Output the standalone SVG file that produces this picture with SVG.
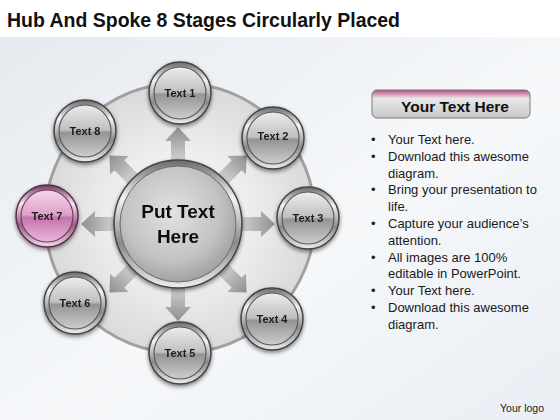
<svg xmlns="http://www.w3.org/2000/svg" width="560" height="420" viewBox="0 0 560 420">
<defs>
<linearGradient id="bg" x1="0" y1="0" x2="1" y2="1">
<stop offset="0" stop-color="#e6eaef"/>
<stop offset="0.55" stop-color="#f6f8fa"/>
<stop offset="1" stop-color="#e9eef4"/>
</linearGradient>
<radialGradient id="disc" cx="0.5" cy="0.5" r="0.5">
<stop offset="0.4" stop-color="#f2f2f2"/>
<stop offset="1" stop-color="#dadada"/>
</radialGradient>
<linearGradient id="chrome" x1="0" y1="0" x2="0" y2="1">
<stop offset="0" stop-color="#6a6a6a"/>
<stop offset="0.3" stop-color="#f4f4f4"/>
<stop offset="0.65" stop-color="#8a8a8a"/>
<stop offset="1" stop-color="#eeeeee"/>
</linearGradient>
<linearGradient id="sphere" x1="0" y1="0" x2="0" y2="1">
<stop offset="0" stop-color="#ececec"/>
<stop offset="0.48" stop-color="#c0c0c0"/>
<stop offset="0.53" stop-color="#949494"/>
<stop offset="1" stop-color="#cdcdcd"/>
</linearGradient>
<linearGradient id="pchrome" x1="0" y1="0" x2="0" y2="1">
<stop offset="0" stop-color="#6e3e5c"/>
<stop offset="0.3" stop-color="#f6e6f0"/>
<stop offset="0.65" stop-color="#98607f"/>
<stop offset="1" stop-color="#f2dcea"/>
</linearGradient>
<linearGradient id="psphere" x1="0" y1="0" x2="0" y2="1">
<stop offset="0" stop-color="#f6d6ec"/>
<stop offset="0.48" stop-color="#dca0c8"/>
<stop offset="0.53" stop-color="#c474ac"/>
<stop offset="1" stop-color="#eab8dc"/>
</linearGradient>
<radialGradient id="hub" cx="0.45" cy="0.4" r="0.6">
<stop offset="0" stop-color="#e2e2e2"/>
<stop offset="0.7" stop-color="#c2c2c2"/>
<stop offset="1" stop-color="#a2a2a2"/>
</radialGradient>
<linearGradient id="arrow" x1="0" y1="0" x2="1" y2="0">
<stop offset="0" stop-color="#d2d2d2"/>
<stop offset="1" stop-color="#8e8e8e"/>
</linearGradient>
<linearGradient id="btn" x1="0" y1="0" x2="0" y2="1">
<stop offset="0" stop-color="#b04a7c"/>
<stop offset="0.22" stop-color="#e0bcd0"/>
<stop offset="0.3" stop-color="#e8e8e8"/>
<stop offset="1" stop-color="#c8c8c8"/>
</linearGradient>
<filter id="sh" x="-30%" y="-30%" width="160%" height="160%">
<feGaussianBlur in="SourceAlpha" stdDeviation="2"/>
<feOffset dx="0" dy="1.5"/>
<feComponentTransfer><feFuncA type="linear" slope="0.5"/></feComponentTransfer>
<feMerge><feMergeNode/><feMergeNode in="SourceGraphic"/></feMerge>
</filter>
<polygon id="arr" points="63,-7 83,-7 83,-13 97,0 83,13 83,7 63,7"/>
</defs>
<style>
.lbl{font-family:"Liberation Sans",Arial,sans-serif;font-weight:bold;font-size:11px;fill:#1e1e1e;text-anchor:middle}
.bul{font-family:"Liberation Sans",Arial,sans-serif;font-size:13px;fill:#1a1a1a}
.ring{fill:url(#chrome);stroke:#444;stroke-width:1.5}
.sph{fill:url(#sphere);stroke:#5a5a5a;stroke-width:1.2}
</style>
<rect width="560" height="420" fill="#ffffff"/>
<rect x="0" y="37" width="560" height="383" fill="url(#bg)"/>
<text x="7" y="27" font-family="'Liberation Sans',Arial,sans-serif" font-weight="bold" font-size="21" fill="#111" textLength="393" lengthAdjust="spacingAndGlyphs">Hub And Spoke 8 Stages Circularly Placed</text>

<g id="disc-bg">
<circle cx="180" cy="218" r="135" fill="url(#disc)" stroke="#a0a0a0" stroke-width="3"/>
</g>

<g id="connectors" fill="url(#arrow)">
<use href="#arr" transform="translate(178,224) rotate(-90)"/>
<use href="#arr" transform="translate(178,224) rotate(-45)"/>
<use href="#arr" transform="translate(178,224) rotate(0)"/>
<use href="#arr" transform="translate(178,224) rotate(45)"/>
<use href="#arr" transform="translate(178,224) rotate(90)"/>
<use href="#arr" transform="translate(178,224) rotate(135)"/>
<use href="#arr" transform="translate(178,224) rotate(180)"/>
<use href="#arr" transform="translate(178,224) rotate(-135)"/>
</g>

<g id="hub" filter="url(#sh)">
<circle cx="178" cy="224" r="64" class="ring"/>
<circle cx="178" cy="224" r="58" fill="url(#hub)" stroke="#6a6a6a" stroke-width="1"/>
<text x="178" y="218" font-family="'Liberation Sans',Arial,sans-serif" font-weight="bold" font-size="19" fill="#111" text-anchor="middle">Put Text</text>
<text x="178" y="243" font-family="'Liberation Sans',Arial,sans-serif" font-weight="bold" font-size="19" fill="#111" text-anchor="middle">Here</text>
</g>

<g id="node1" filter="url(#sh)"><circle cx="180" cy="93" r="31" class="ring"/><circle cx="180" cy="93" r="26" class="sph"/><text x="180" y="97" class="lbl">Text 1</text></g>
<g id="node2" filter="url(#sh)"><circle cx="273" cy="138" r="31" class="ring"/><circle cx="273" cy="138" r="26" class="sph"/><text x="273" y="140" class="lbl">Text 2</text></g>
<g id="node3" filter="url(#sh)"><circle cx="308" cy="218" r="31" class="ring"/><circle cx="308" cy="218" r="26" class="sph"/><text x="308" y="222" class="lbl">Text 3</text></g>
<g id="node4" filter="url(#sh)"><circle cx="272" cy="319" r="31" class="ring"/><circle cx="272" cy="319" r="26" class="sph"/><text x="272" y="323" class="lbl">Text 4</text></g>
<g id="node5" filter="url(#sh)"><circle cx="180" cy="353" r="31" class="ring"/><circle cx="180" cy="353" r="26" class="sph"/><text x="180" y="357" class="lbl">Text 5</text></g>
<g id="node6" filter="url(#sh)"><circle cx="75" cy="303" r="31" class="ring"/><circle cx="75" cy="303" r="26" class="sph"/><text x="75" y="307" class="lbl">Text 6</text></g>
<g id="node7" filter="url(#sh)"><circle cx="47" cy="216" r="31" fill="url(#pchrome)" stroke="#5e2e4c" stroke-width="1.5"/><circle cx="47" cy="216" r="26" fill="url(#psphere)" stroke="#7a3a64" stroke-width="1.2"/><text x="47" y="220" class="lbl">Text 7</text></g>
<g id="node8" filter="url(#sh)"><circle cx="85" cy="131" r="31" class="ring"/><circle cx="85" cy="131" r="26" class="sph"/><text x="85" y="135" class="lbl">Text 8</text></g>

<g id="panel">
<rect x="372" y="90" width="158" height="28" rx="5" fill="url(#btn)" stroke="#7a7a7a" stroke-width="1"/>
<text x="455" y="112" font-family="'Liberation Sans',Arial,sans-serif" font-weight="bold" font-size="15.5" fill="#111" text-anchor="middle">Your Text Here</text>
<g class="bul">
<text x="371" y="144">•</text><text x="388" y="144">Your Text here.</text>
<text x="371" y="160.8">•</text><text x="388" y="160.8">Download this awesome</text>
<text x="388" y="177.6">diagram.</text>
<text x="371" y="194.4">•</text><text x="388" y="194.4">Bring your presentation to</text>
<text x="388" y="211.2">life.</text>
<text x="371" y="228">•</text><text x="388" y="228">Capture your audience’s</text>
<text x="388" y="244.8">attention.</text>
<text x="371" y="261.6">•</text><text x="388" y="261.6">All images are 100%</text>
<text x="388" y="278.4">editable in PowerPoint.</text>
<text x="371" y="295.2">•</text><text x="388" y="295.2">Your Text here.</text>
<text x="371" y="312">•</text><text x="388" y="312">Download this awesome</text>
<text x="388" y="328.8">diagram.</text>
</g>
<text x="500" y="412" font-family="'Liberation Sans',Arial,sans-serif" font-size="10.5" fill="#222">Your logo</text>
</g>
</svg>
